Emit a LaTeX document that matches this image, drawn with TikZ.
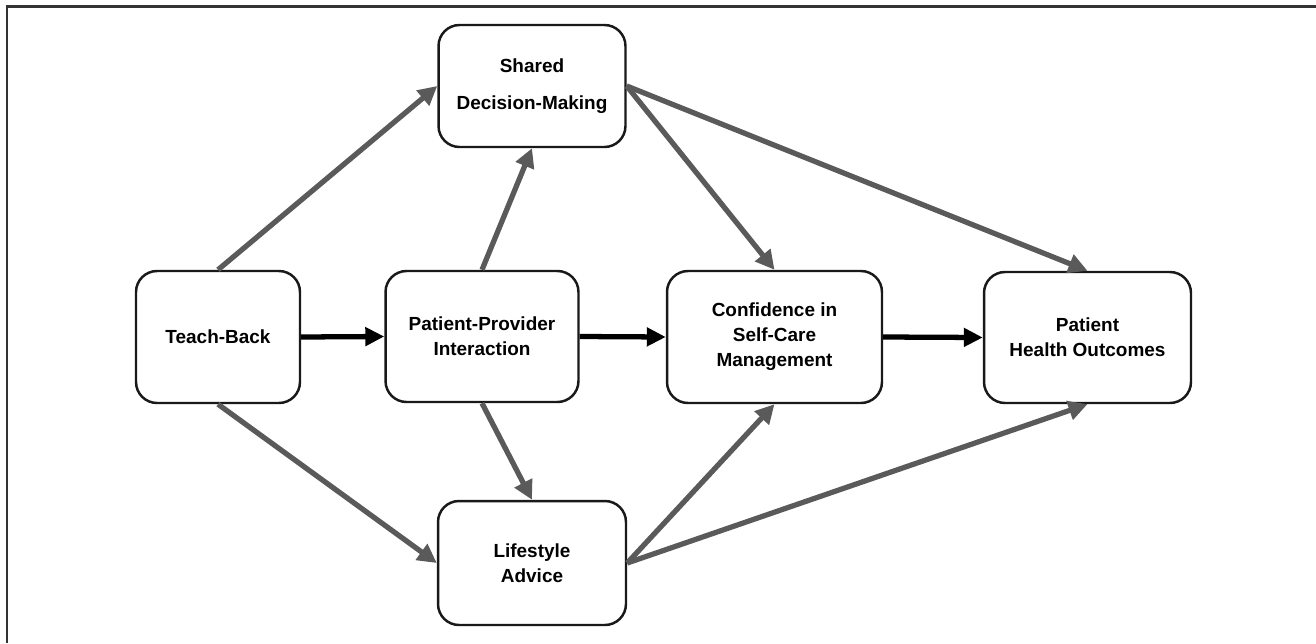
\documentclass[tikz,border=0pt]{standalone}
\usepackage{fontspec}
\setmainfont{Liberation Sans}
\usetikzlibrary{arrows.meta}
\definecolor{linkgray}{HTML}{5A5A5A}

\begin{document}
\begin{tikzpicture}[x=0.02cm,y=-0.02cm,
  stage/.style={draw=black!90,line width=1.4pt,rounded corners=0.42cm,fill=white,
    align=center,font=\fontsize{10.8}{14.2}\selectfont\bfseries},
  mainlink/.style={-{Triangle[length=0.38cm,width=0.36cm]},line width=3pt,black},
  sidelink/.style={-{Triangle[length=0.38cm,width=0.38cm]},line width=3pt,linkgray}]
  % Define the canvas
  \useasboundingbox (0,0) rectangle (1316,643);
  \draw[line width=1.3pt,black!80] (1316,6.5) -- (7,6.5) -- (7,643);
  % Place the stages
  \node[stage,minimum width=3.28cm,minimum height=2.64cm] (tb) at (218,337) {Teach-Back};
  \node[stage,minimum width=3.86cm,minimum height=2.62cm] (ppi) at (482,336.5) {Patient-Provider\\Interaction};
  \node[stage,minimum width=3.74cm,minimum height=2.44cm] (sdm) at (532,86) {Shared\\[0.24cm]Decision-Making};
  \node[stage,minimum width=4.3cm,minimum height=2.64cm] (csm) at (774.5,337) {Confidence in\\Self-Care\\Management};
  \node[stage,minimum width=4.14cm,minimum height=2.62cm] (pho) at (1087.5,337.5) {Patient\\Health Outcomes};
  \node[stage,minimum width=3.76cm,minimum height=2.48cm] (la) at (532,563) {Lifestyle\\Advice};
  % Main path
  \foreach \a/\b in {tb/ppi,ppi/csm,csm/pho}
    \draw[mainlink] (\a.east) -- (\b.west);
  % Side paths
  \draw[sidelink] (tb.north) -- (sdm.west);
  \draw[sidelink] (tb.south) -- (la.west);
  \draw[sidelink] (ppi.north) -- (sdm.south);
  \draw[sidelink] (ppi.south) -- (la.north);
  \foreach \b in {csm,pho}{
    \draw[sidelink] (sdm.east) -- (\b.north);
    \draw[sidelink] (la.east) -- (\b.south);}
\end{tikzpicture}
\end{document}
